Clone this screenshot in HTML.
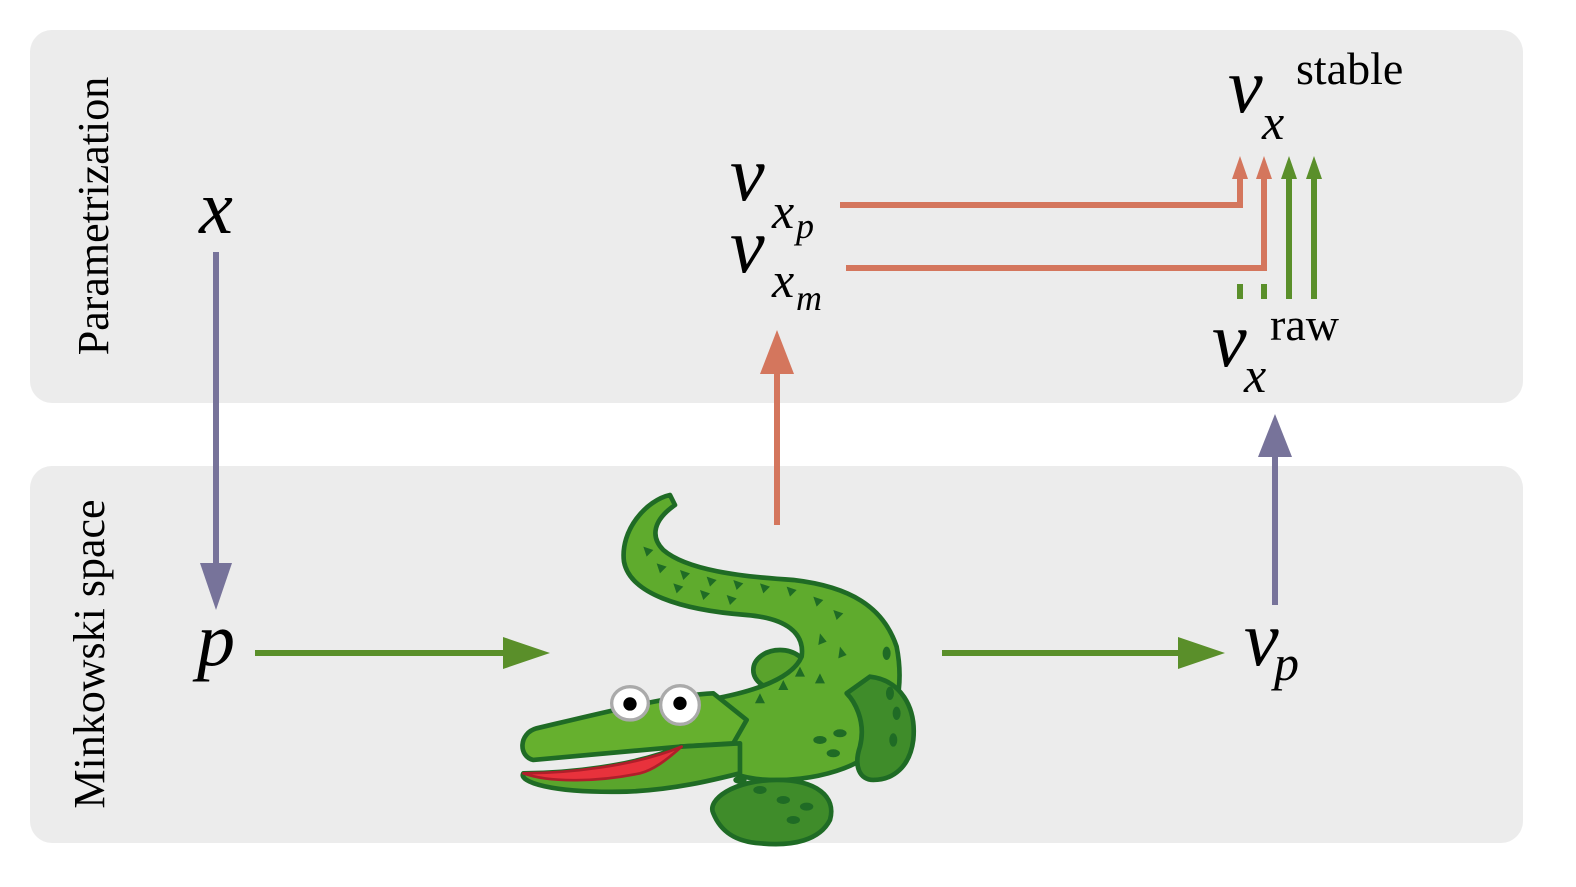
<!DOCTYPE html>
<html><head><meta charset="utf-8"><style>
body{margin:0;background:#fff;width:1576px;height:882px;overflow:hidden}
.m{font-family:"Liberation Serif",serif;font-style:italic;fill:#000}
.u{font-family:"Liberation Serif",serif;fill:#000}
</style></head><body>
<svg width="1576" height="882" viewBox="0 0 1576 882">
<rect x="30" y="30" width="1493" height="373" rx="22" fill="#ececec"/>
<rect x="30" y="466" width="1493" height="377" rx="22" fill="#ececec"/>
<text class="u" font-size="44" transform="translate(108,216) rotate(-90)" text-anchor="middle">Parametrization</text>
<text class="u" font-size="44" transform="translate(104,654) rotate(-90)" text-anchor="middle">Minkowski space</text>

<g>
<line x1="216" y1="252" x2="216" y2="570" stroke="#77739a" stroke-width="6"/>
<path d="M200,563 L232,563 L216,610 Z" fill="#77739a"/></g>
<g>
<line x1="255" y1="653" x2="505" y2="653" stroke="#5a8f2a" stroke-width="6"/>
<path d="M503,637 L550,653 L503,669 Z" fill="#5a8f2a"/></g>
<g>
<line x1="942" y1="653" x2="1180" y2="653" stroke="#5a8f2a" stroke-width="6"/>
<path d="M1178,637 L1225,653 L1178,669 Z" fill="#5a8f2a"/></g>
<g>
<line x1="777" y1="525" x2="777" y2="372" stroke="#d4765d" stroke-width="6"/>
<path d="M760,374 L794,374 L777,330 Z" fill="#d4765d"/></g>
<g>
<line x1="1275" y1="605" x2="1275" y2="455" stroke="#77739a" stroke-width="6"/>
<path d="M1258,457 L1292,457 L1275,414 Z" fill="#77739a"/></g>
<g>
<polyline points="840,205 1240,205 1240,175" fill="none" stroke="#d4765d" stroke-width="6"/>
<path d="M1232,179 L1248,179 L1240,156 Z" fill="#d4765d"/></g>
<g>
<polyline points="846,268 1264,268 1264,175" fill="none" stroke="#d4765d" stroke-width="6"/>
<path d="M1256,179 L1272,179 L1264,156 Z" fill="#d4765d"/></g>
<g stroke="#5a8f2a" stroke-width="6">
<line x1="1289" y1="299" x2="1289" y2="175"/><line x1="1314" y1="299" x2="1314" y2="175"/>
<line x1="1240" y1="284" x2="1240" y2="299"/><line x1="1264" y1="284" x2="1264" y2="299"/>
<path d="M1281,179 L1297,179 L1289,156 Z M1306,179 L1322,179 L1314,156 Z" fill="#5a8f2a" stroke="none"/></g>

<text class="m" font-size="76" x="216" y="233" text-anchor="middle">x</text>
<text class="m" font-size="76" x="216" y="665" text-anchor="middle">p</text>
<g><text class="m" font-size="78" x="730" y="200">v</text><text class="m" font-size="50" x="772" y="228">x</text><text class="m" font-size="36" x="796" y="238">p</text></g>
<g><text class="m" font-size="78" x="730" y="272">v</text><text class="m" font-size="50" x="772" y="297">x</text><text class="m" font-size="36" x="796" y="310">m</text></g>
<g><text class="m" font-size="78" x="1228" y="112">v</text><text class="u" font-size="46" x="1296" y="84">stable</text><text class="m" font-size="50" x="1262" y="139">x</text></g>
<g><text class="m" font-size="78" x="1212" y="366">v</text><text class="u" font-size="46" x="1270" y="340">raw</text><text class="m" font-size="50" x="1244" y="392">x</text></g>
<g><text class="m" font-size="78" x="1244" y="665">v</text><text class="m" font-size="50" x="1274" y="680">p</text></g>

<g transform="translate(500,480) scale(0.3333)" stroke="#1f6b25" stroke-width="14" stroke-linejoin="round">
<ellipse cx="840" cy="570" rx="80" ry="60" fill="#5aa32c"/>
<path d="M510,45 C440,60 360,150 372,245 C390,340 540,390 740,405 C860,415 915,460 905,530 C880,590 780,630 650,655 L700,880 C800,920 1000,900 1100,830 C1200,740 1210,600 1190,500 C1150,380 1050,320 880,300 C720,290 560,270 490,210 C450,170 460,120 525,75 Z" fill="#5fab2d"/>
<path d="M1110,590 C1200,600 1250,680 1240,780 C1230,860 1180,900 1120,900 C1080,900 1060,860 1080,800 C1100,720 1060,660 1040,640 Z" fill="#3f8c2a"/>
<path d="M640,1000 C620,960 700,900 830,900 C950,900 1010,950 990,1020 C960,1080 880,1100 780,1090 C700,1085 660,1050 640,1000 Z" fill="#3f8c2a"/>
<path d="M640,640 C520,645 300,700 110,745 C55,760 55,830 100,840 L540,800 L700,790 L740,720 Z" fill="#66b02e"/>
<path d="M540,800 C400,860 200,880 70,880 C55,905 150,940 380,935 C520,930 640,900 720,880 L720,790 Z" fill="#5aa52c"/>
<path d="M70,880 C200,880 400,860 545,800 C500,840 460,870 420,880 C300,905 150,910 70,880 Z" fill="#e8323c" stroke="#b01e2a" stroke-width="8"/>
<ellipse cx="390" cy="670" rx="55" ry="50" fill="#fff" stroke="#aaa" stroke-width="10"/>
<circle cx="390" cy="672" r="20" fill="#000" stroke="none"/>
<circle cx="540" cy="675" r="58" fill="#fff" stroke="#aaa" stroke-width="10"/>
<circle cx="540" cy="670" r="20" fill="#000" stroke="none"/>
<g fill="#1f6b25" stroke="none">
<path d="M430,200 l30,10 l-20,20Z M470,250 l30,10 l-20,20Z M540,270 l30,10 l-20,20Z M620,290 l30,10 l-20,20Z M700,300 l30,10 l-20,20Z M780,310 l30,10 l-20,20Z M860,320 l30,10 l-20,20Z M940,350 l30,10 l-20,20Z M1000,390 l30,10 l-20,20Z M960,460 l20,25 l-25,10Z M1020,500 l20,25 l-25,10Z M900,560 l15,30 l-30,0Z M850,600 l15,30 l-30,0Z M780,640 l15,30 l-30,0Z M960,580 l15,30 l-30,0Z M520,310 l30,10 l-20,20Z M600,330 l30,10 l-20,20Z M680,345 l30,10 l-20,20Z"/>
<ellipse cx="1160" cy="520" rx="12" ry="20"/><ellipse cx="1170" cy="640" rx="12" ry="20"/><ellipse cx="1190" cy="700" rx="12" ry="20"/><ellipse cx="1180" cy="780" rx="12" ry="20"/>
<ellipse cx="960" cy="780" rx="20" ry="12"/><ellipse cx="1020" cy="760" rx="20" ry="12"/><ellipse cx="1000" cy="820" rx="20" ry="12"/><ellipse cx="720" cy="900" rx="20" ry="12"/><ellipse cx="780" cy="930" rx="20" ry="12"/><ellipse cx="850" cy="960" rx="20" ry="12"/><ellipse cx="920" cy="980" rx="20" ry="12"/><ellipse cx="880" cy="1020" rx="20" ry="12"/>
</g>
</g>
</svg>
</body></html>
